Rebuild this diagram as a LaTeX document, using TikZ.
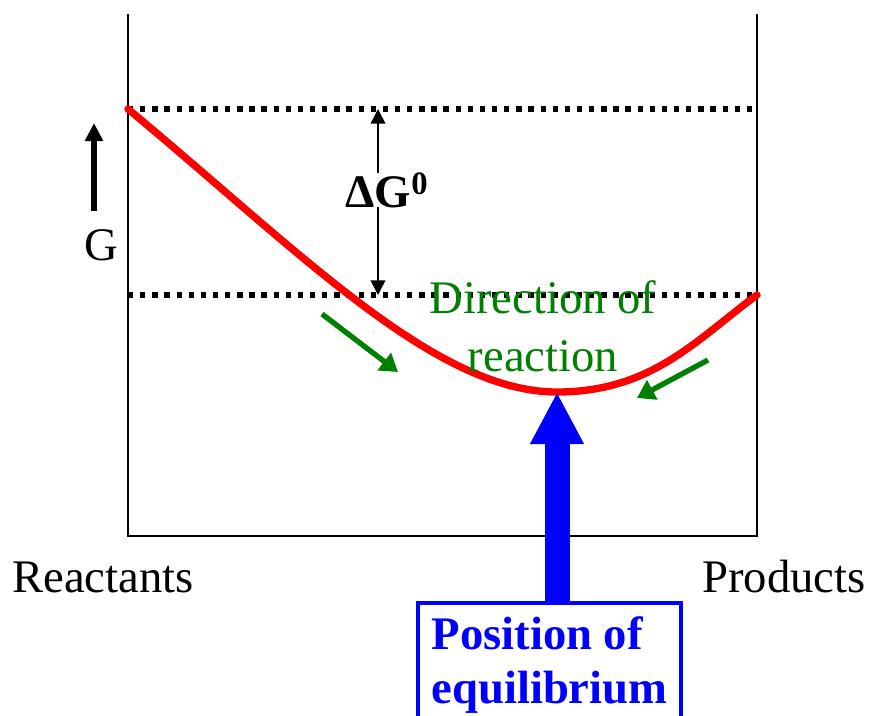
\documentclass[tikz,border=0pt]{standalone}
\usepackage{fontspec}
\setmainfont{Liberation Serif}
\usepackage{tikz}
\usetikzlibrary{arrows.meta, positioning}
\definecolor{rxngreen}{RGB}{0,128,0}

\begin{document}
\begin{tikzpicture}[
  x=0.75pt, y=-0.75pt,
  lbl/.style = {font=\fontsize{35}{43}\selectfont, inner sep=0pt},
  axis/.style = {line width=1.5pt},
  level/.style = {line width=3.8pt, dash pattern=on 4pt off 5.1pt},
  energy/.style = {red, line width=5.5pt, line cap=round},
  dg/.style = {line width=1.1pt, {Triangle[length=11pt,width=11pt]}-{Triangle[length=11pt,width=11pt]}},
  flow/.style = {rxngreen, line width=4pt, -{Triangle[length=13pt,width=16pt]}},
  eqbox/.style = {draw=blue, line width=3pt, text=blue, align=left, minimum width=197pt,
                  inner xsep=0pt, inner ysep=10pt, font=\fontsize{35}{40.5}\selectfont\bfseries},
  bigarrow/.style = {blue, line width=18.75pt, -{Triangle[length=39pt,width=37.5pt]}}
]
\useasboundingbox (0,0) rectangle (872,715);

% frame
\coordinate (origin) at (128,536);
\coordinate (xend) at (757,536);
\coordinate (reac) at (128,109);
\coordinate (prodlvl) at (757,295);
\coordinate (min) at (557,392);
\draw[axis] (128,14) -- (origin) -- (xend) -- (757,14);

% free energy levels
\draw[level] (reac) -- (reac -| xend);
\draw[level] (prodlvl -| origin) -- (prodlvl);
\draw[energy] (reac) .. controls (300,252) and (435,392) .. (min)
  .. controls (652,392) and (697,339) .. (prodlvl);

\coordinate (dgtop) at (378,109);
\coordinate (dgbot) at (378,295);
\draw[dg] (dgtop) -- (dgbot);
\node[lbl, fill=white, anchor=base, font=\fontsize{35}{43}\selectfont\bfseries] (dG) at (387,207) {ΔG\textsuperscript{0}};

% G axis
\coordinate (gbot) at (94,211);
\coordinate (gtop) at (94,123);
\draw[line width=4.5pt, -{Triangle[length=13.5pt,width=13pt]}] (gbot) -- (gtop);
\node[lbl, anchor=base] (G) at (101,260) {G};

\node[lbl, anchor=base west] (react) at (12,592) {Reactants};
\node[lbl, anchor=base west] (prod) at (702,592) {Products};

% direction of reaction
\node[lbl, text=rxngreen, align=center, anchor=base] (dir) at (543,371) {Direction of\\reaction};
\coordinate (f1a) at (322,314);
\coordinate (f1b) at (398,372);
\coordinate (f2a) at (708,360);
\coordinate (f2b) at (637,398);
\draw[flow] (f1a) -- (f1b);
\draw[flow] (f2a) -- (f2b);

% equilibrium
\node[eqbox, anchor=north] (eq) at (549.5,601) {Position of\\equilibrium};
\draw[bigarrow] (eq.north -| min) -- (min);
\end{tikzpicture}
\end{document}
